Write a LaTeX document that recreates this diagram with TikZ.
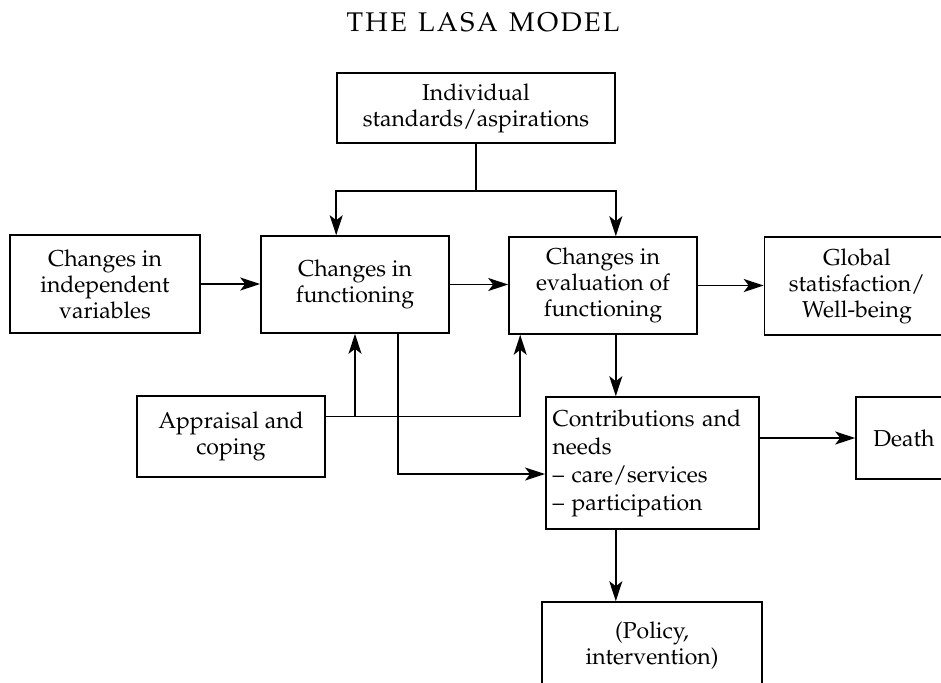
\documentclass[tikz,border=0pt]{standalone}
\usepackage[T1]{fontenc}
\usepackage{mathpazo}
\usepackage{tikz}
\usetikzlibrary{arrows.meta, positioning, calc}
\tikzset{
    box/.style={rectangle, draw, line width=0.8pt, align=center, font=\fontsize{11.5}{13}\selectfont},
    line/.style={line width=0.8pt},
    arrow/.style={-{Stealth[length=10pt, width=6.5pt, inset=2.5pt]}, line width=0.8pt}
}

\begin{document}
\begin{tikzpicture}[x=0.5pt, y=-0.5pt]
    \useasboundingbox (0,0) rectangle (941,682);
    \clip (0,0) rectangle (941,682);

    \node[font=\fontsize{13.5}{15}\selectfont] (title) at (483,22) {T\kern1.2pt H\kern1.2pt E\ \,L\kern1.2pt A\kern1.2pt S\kern1.2pt A\ \,M\kern1.2pt O\kern1.2pt D\kern1.2pt E\kern1.2pt L};

    \node[box, minimum width=139pt, minimum height=35pt] (indiv) at (476,108) {Individual\\standards/aspirations};
    \node[box, minimum width=95pt, minimum height=49pt] (indep) at (105,284) {Changes in\\independent\\variables};
    \node[box, minimum width=94pt, minimum height=48.5pt] (func) at (355,284.5) {Changes in\\functioning};
    \node[box, minimum width=94pt, minimum height=48.5pt] (eval) at (603,285.5) {Changes in\\evaluation of\\functioning};
    \node[box, minimum width=92.5pt, minimum height=49pt] (global) at (857,286) {Global\\statisfaction/\\Well-being};
    \node[box, minimum width=94pt, minimum height=40.5pt] (apprais) at (231,436.5) {Appraisal and\\coping};
    \node[box, align=left, text width=100pt, minimum height=66pt, font=\fontsize{11.5}{14}\selectfont] (contrib) at (652.5,463) {Contributions and\\needs\\-- care/services\\-- participation};
    \node[box, minimum width=48pt, minimum height=41pt] (death) at (904,438) {Death};
    \node[box, minimum width=110pt, minimum height=44pt] (policy) at (652,646) {(Policy,\\intervention)};

    % standards feed both changes boxes
    \coordinate (split) at ($(indiv.south)+(0,47)$);
    \draw[line] (indiv.south) -- (split);
    \draw[arrow] (split) -| (indiv.west |- func.north);
    \draw[arrow] (split) -| (indiv.east |- eval.north);

    \draw[arrow] (indep.east) -- (indep.east -| func.west);
    \draw[arrow] (func.east) -- (func.east -| eval.west);
    \draw[arrow] (eval.east) -- (eval.east -| global.west);
    \draw[arrow] (indiv.east |- eval.south) -- (indiv.east |- contrib.north);

    % appraisal and coping
    \coordinate (ap) at ([yshift=10pt]apprais.east);
    \draw[arrow] (ap) -| ([xshift=6pt]eval.south west);
    \draw[arrow] (ap -| func.south) -- (func.south);

    \draw[arrow] ([xshift=21.5pt]func.south) |- ([yshift=-5.5pt]contrib.west);
    \draw[arrow] (contrib.east |- death) -- (death.west);
    \draw[arrow] (indiv.east |- contrib.south) -- (indiv.east |- policy.north);
\end{tikzpicture}
\end{document}
